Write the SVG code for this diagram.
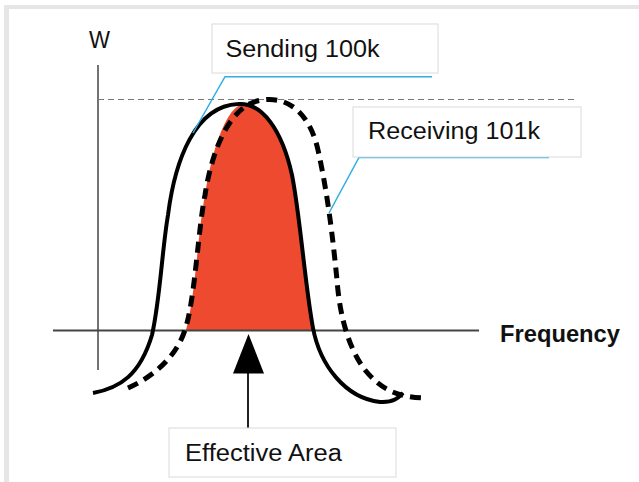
<svg xmlns="http://www.w3.org/2000/svg" width="639" height="482" viewBox="0 0 639 482">
<style>
.lbl{font-family:"Liberation Sans",Arial,sans-serif;font-size:23px;fill:#111}
.box{fill:#fff;stroke:#dadada;stroke-width:1}
.blue{fill:none;stroke:#2eaee3;stroke-width:1.5}
.axis{stroke:#444;fill:none}
</style>
<rect x="0" y="0" width="639" height="482" fill="#fff"/>
<rect x="4" y="5" width="635" height="4" fill="#e6e6e6"/>
<rect x="4" y="5" width="5" height="477" fill="#e6e6e6"/>
<g id="chart">
<line class="axis" x1="98" y1="65" x2="98" y2="370" stroke-width="1.5"/>
<line x1="98" y1="99.5" x2="576" y2="99.5" stroke="#777" stroke-width="1" stroke-dasharray="6,4"/>
<path id="effective" d="M186,330 C195,300 198,230 205,195 C212,150 225,112 240,105 C262,102 282,130 292,175 C300,215 305,285 313,330 Z" fill="#ee4a2f"/>
<line class="axis" x1="53" y1="330.5" x2="479" y2="330.5" stroke-width="2"/>
<path id="sending" d="M93,393 C120,388 140,375 152,335 C160,300 162,250 168,215 C175,160 195,106 238,104 C262,102 282,130 292,175 C300,215 305,285 313,328 C320,365 345,398 380,402 C395,403 400,396 403,393" fill="none" stroke="#000" stroke-width="4"/>
<path id="receiving" d="M128,388 C150,378 175,360 185,330 C195,300 198,230 205,195 C212,150 230,104 262,100 C290,96 310,115 318,150 C328,195 333,240 337,280 C340,320 350,350 365,370 C380,388 395,397 424,398" fill="none" stroke="#000" stroke-width="5" stroke-dasharray="11,7"/>
<text x="89" y="48" class="lbl" style="font-size:23px" textLength="21" lengthAdjust="spacingAndGlyphs">W</text>
<text x="500" y="342" class="lbl" style="font-weight:bold" textLength="120" lengthAdjust="spacingAndGlyphs">Frequency</text>
</g>
<g id="connectors">
<polyline class="blue" points="432,76.7 225,76.7 193,133"/>
<polyline class="blue" points="549,157.5 359,157.5 329,213"/>
<line x1="248" y1="372" x2="248" y2="428" stroke="#222" stroke-width="2"/>
<polygon points="248.5,334 233,373.5 264,373.5" fill="#000"/>
</g>
<g id="label-sending">
<rect class="box" x="212" y="24" width="226" height="49"/>
<text class="lbl" x="225.5" y="57" textLength="154" lengthAdjust="spacingAndGlyphs">Sending 100k</text>
</g>
<g id="label-receiving">
<rect class="box" x="353" y="107" width="228" height="50"/>
<text class="lbl" x="368" y="139" textLength="172" lengthAdjust="spacingAndGlyphs">Receiving 101k</text>
</g>
<g id="label-effective">
<rect class="box" x="169" y="428" width="227" height="49"/>
<text class="lbl" x="185" y="460.5" textLength="157" lengthAdjust="spacingAndGlyphs">Effective Area</text>
</g>
</svg>
